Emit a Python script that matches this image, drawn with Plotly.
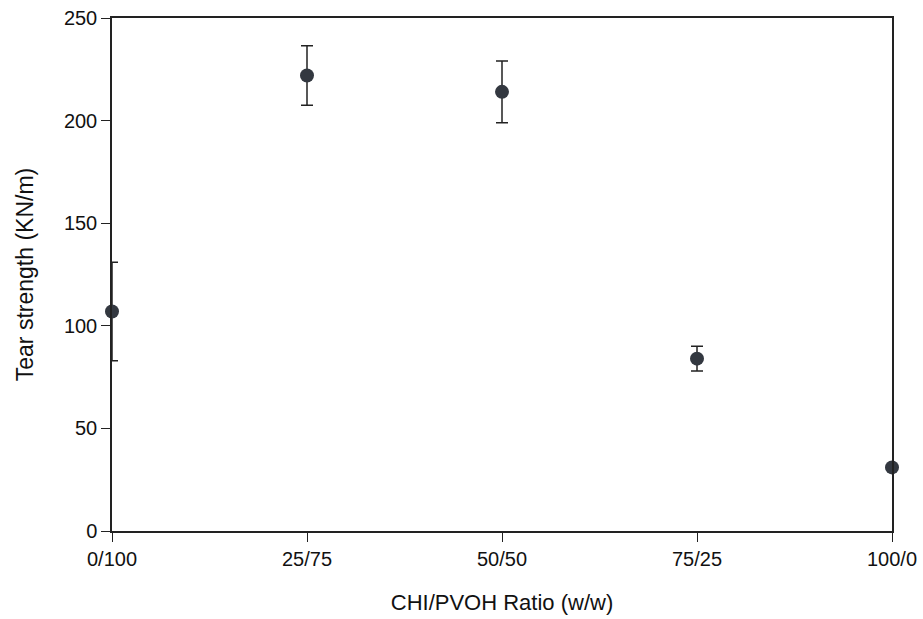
import plotly.graph_objects as go

ratios = ["0/100", "25/75", "50/50", "75/25", "100/0"]
x_pos = [0, 25, 50, 75, 100]
tear_strength = [107, 222, 214, 84, 31]
err = [24, 14.5, 15, 6, 0]
y_ticks = [0, 50, 100, 150, 200, 250]

fig = go.Figure()
fig.add_trace(go.Scatter(
    x=x_pos, y=tear_strength, mode="markers",
    marker=dict(size=14, color="#333840"),
    error_y=dict(type="data", array=err, visible=True, color="#222", thickness=1.5, width=6),
    cliponaxis=False, showlegend=False,
))

font = "Liberation Sans, Arial, sans-serif"
fig.update_layout(
    width=923, height=619,
    margin=dict(l=112, r=31, t=18, b=88),
    paper_bgcolor="white", plot_bgcolor="white",
    font=dict(family=font, color="#111", size=20),
)
fig.update_xaxes(
    range=[0, 100], tickvals=x_pos, ticktext=ratios, automargin=False,
    showgrid=False, zeroline=False, showline=True, linecolor="#222", linewidth=1.5,
    mirror=True, ticks="outside", ticklen=9, tickcolor="#222",
    title=dict(text="CHI/PVOH Ratio (w/w)", font=dict(size=22), standoff=26),
)
fig.update_yaxes(
    range=[0, 250], tickvals=y_ticks, automargin=False,
    showgrid=False, zeroline=False, showline=True, linecolor="#222", linewidth=1.5,
    mirror=True, ticks="outside", ticklen=9, tickcolor="#222",
    title=dict(text="Tear strength (KN/m)", font=dict(size=23), standoff=24),
)
fig.write_html("out.html")
